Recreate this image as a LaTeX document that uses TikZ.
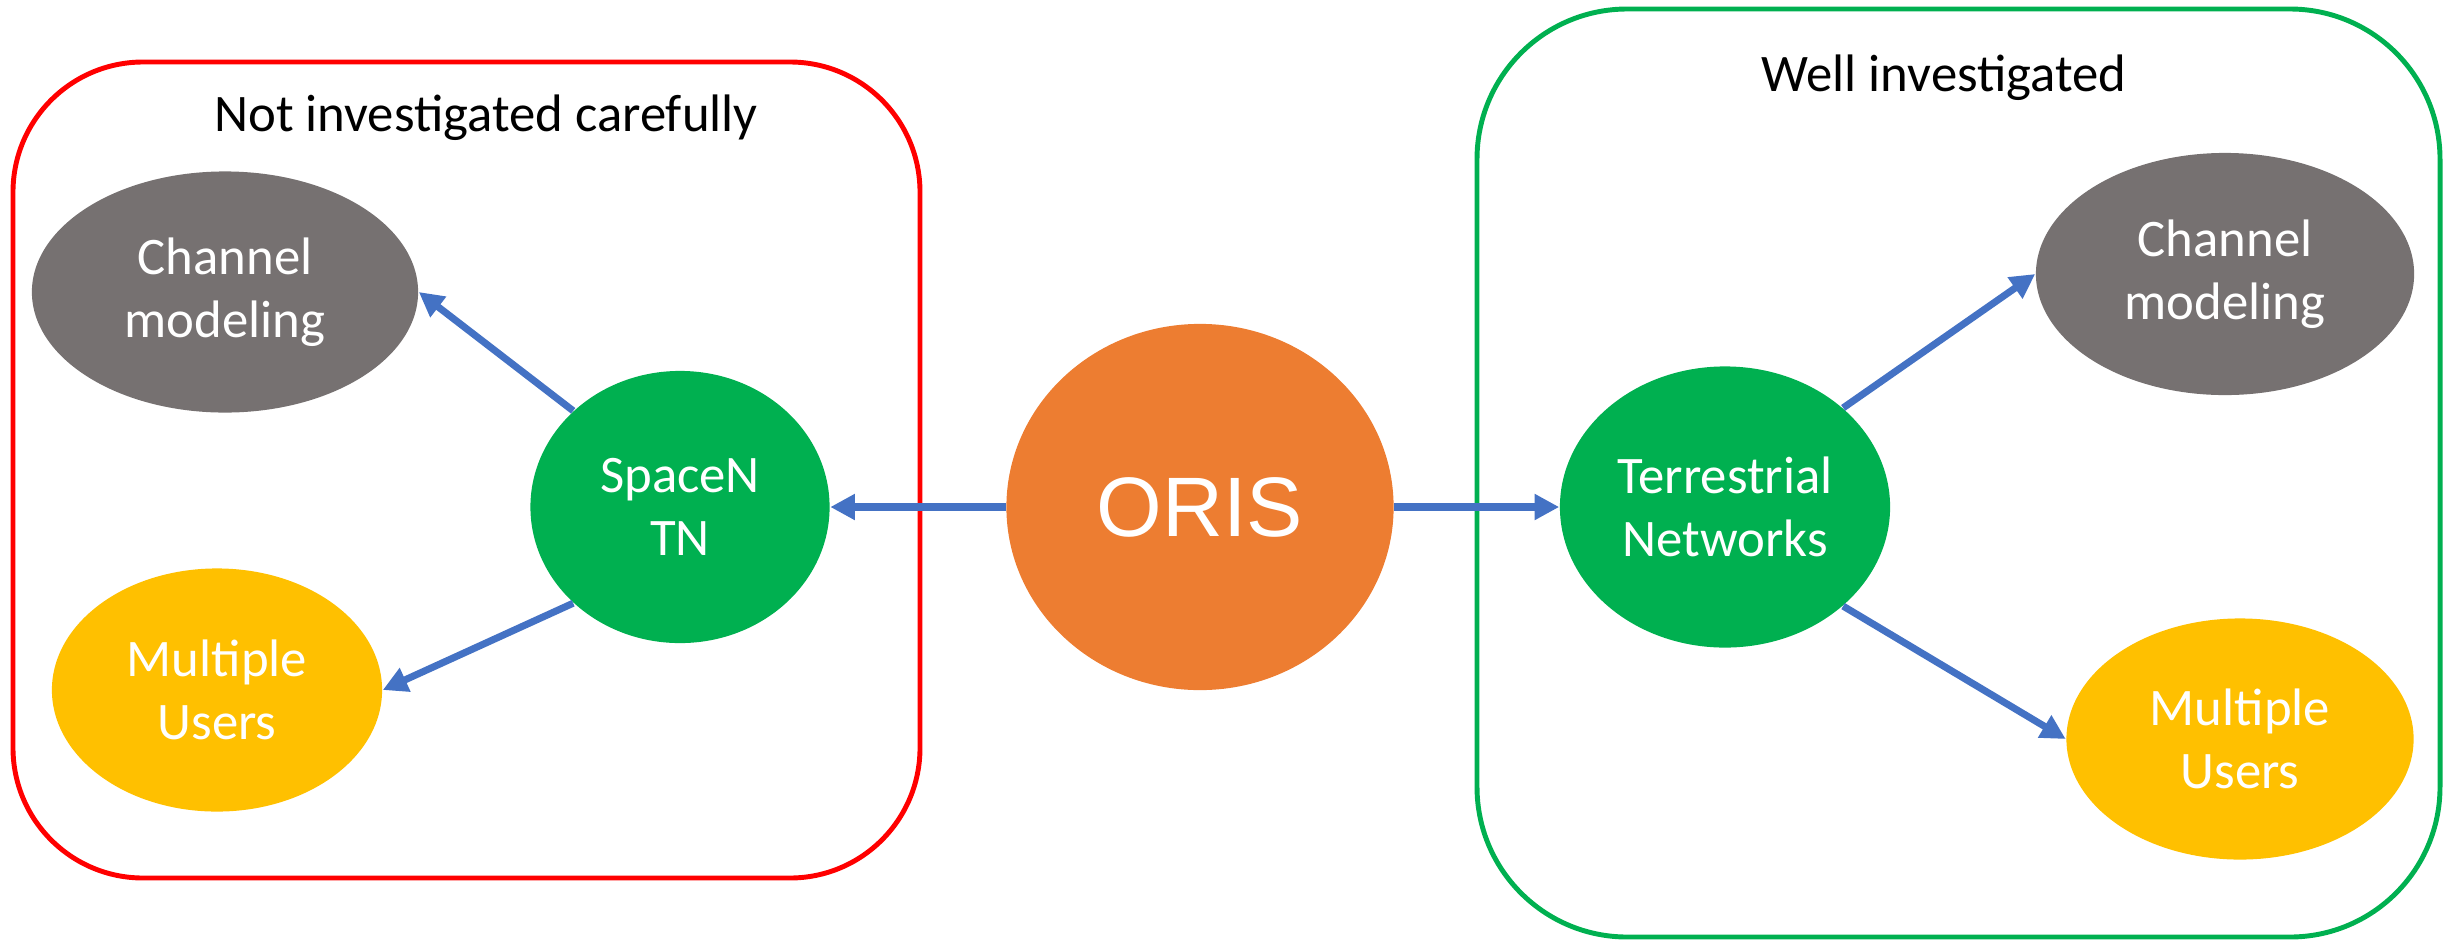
\documentclass[tikz,border=0pt]{standalone}
\usepackage{fontspec}
\setmainfont{Carlito}
\newfontfamily\orisfont{Liberation Sans}
\usetikzlibrary{shapes.geometric,arrows.meta}

\definecolor{boxred}{HTML}{FF0000}
\definecolor{boxgreen}{HTML}{00B050}
\definecolor{nodegreen}{HTML}{00B050}
\definecolor{chgray}{HTML}{767171}
\definecolor{useryellow}{HTML}{FFC000}
\definecolor{orisorange}{HTML}{ED7D31}
\definecolor{linkblue}{HTML}{4472C4}

\begin{document}
\begin{tikzpicture}[x=0.01cm,y=-0.01cm,
	bubble/.style={ellipse,inner sep=0pt,text=white,align=center,font=\fontsize{15}{18}\selectfont},
	link/.style={draw=linkblue,line width=2pt,-{Triangle[length=7pt,width=7pt]}},
	title/.style={anchor=base,font=\fontsize{15}{18}\selectfont}]
	\useasboundingbox (0,0) rectangle (2443,942);

	% boxes
	\draw [boxred,line width=1.4pt,rounded corners=1.3cm] (13,62) rectangle (920,878);
	\draw [boxgreen,line width=1.4pt,rounded corners=1.5cm] (1477,9) rectangle (2440,937);
	% label
	\node [title] (nottitle) at (486,131) {Not investigated carefully};
	\node [title] (welltitle) at (1944,91) {Well investigated};

	% ORIS
	\node [bubble,fill=orisorange,minimum width=3.87cm,minimum height=3.66cm,font=\orisfont\fontsize{24}{28}\selectfont] (oris) at (1200,507) {ORIS};

	% left
	\node [bubble,fill=nodegreen,minimum width=2.99cm,minimum height=2.72cm] (spacen) at (680,507) {SpaceN\\TN};
	\node [bubble,fill=chgray,minimum width=3.86cm,minimum height=2.41cm] (chanL) at (225,292) {Channel\\modeling};
	\node [bubble,fill=useryellow,minimum width=3.30cm,minimum height=2.43cm] (userL) at (217,690) {Multiple\\Users};

	% right
	\node [bubble,fill=nodegreen,minimum width=3.30cm,minimum height=2.81cm] (terr) at (1725,507) {Terrestrial\\Networks};
	\node [bubble,fill=chgray,minimum width=3.78cm,minimum height=2.42cm] (chanR) at (2225,274) {Channel\\modeling};
	\node [bubble,fill=useryellow,minimum width=3.47cm,minimum height=2.41cm] (userR) at (2240,739) {Multiple\\Users};

	% arrows
	\draw [link] (oris.west) -- (spacen.east);
	\draw [link] (oris.east) -- (terr.west);
	\draw [link] (spacen.138) -- (chanL.east);
	\draw [link] (spacen.222) -- (userL.east);
	\draw [link] (terr.40) -- (chanR.west);
	\draw [link] (terr.320) -- (userR.west);
\end{tikzpicture}
\end{document}
